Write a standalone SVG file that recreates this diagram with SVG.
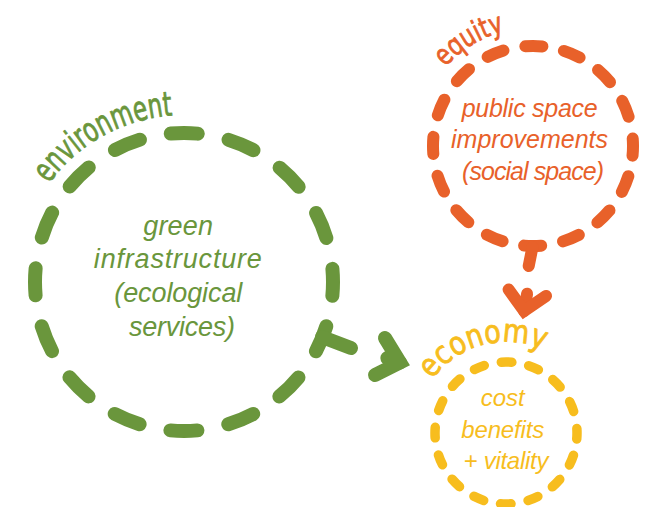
<svg xmlns="http://www.w3.org/2000/svg" width="671" height="507" viewBox="0 0 671 507">
  <style>
    .ring { fill: none; stroke-linecap: round; }
    .green { stroke: #6a963c; }
    .orange { stroke: #e8612a; }
    .yellow { stroke: #f7bd1e; }
    .tg { fill: #6a963c; }
    .to { fill: #e8612a; }
    .ty { fill: #f7bd1e; }
    .body { font-family: "Liberation Sans", Arial, sans-serif; font-style: italic; text-anchor: middle; }
    .head { font-family: "DejaVu Sans Condensed", "Liberation Sans Narrow", "Liberation Sans", sans-serif; font-stretch: condensed; stroke-width: 0.8; stroke-linejoin: round; }
    .conn { fill: none; stroke-linecap: round; stroke-linejoin: miter; stroke-miterlimit: 10; }
  </style>
  <defs>
    <path id="envPath" d="M48.9,183.8 A167,167 0 0 1 178.2,115.1"/>
    <path id="eqPath" d="M445.3,67 A118,118 0 0 1 504.5,31.5"/>
    <path id="ecoPath" d="M432.4,379.5 A91,91 0 0 1 544.5,350.5"/>
  </defs>
  <rect width="671" height="507" fill="#ffffff"/>

  <g id="environment">
    <circle class="ring green" cx="184" cy="282" r="149" stroke-width="14" stroke-dasharray="27 31.51" stroke-dashoffset="42.76" transform="rotate(11.25 184 282)"/>
    <text class="head tg green" font-size="34"><textPath href="#envPath" textLength="146" lengthAdjust="spacingAndGlyphs">environment</textPath></text>
    <text class="body tg" font-size="27">
      <tspan x="182" y="235" textLength="70">green</tspan>
      <tspan x="182" y="268" textLength="168">infrastructure</tspan>
      <tspan x="182" y="302" textLength="128">(ecological</tspan>
      <tspan x="182" y="336" textLength="106">services)</tspan>
    </text>
  </g>

  <g id="equity">
    <circle class="ring orange" cx="533" cy="146" r="100" stroke-width="12" stroke-dasharray="17 22.27" stroke-dashoffset="28.135" transform="rotate(11.25 533 146)"/>
    <text class="head to orange" font-size="29"><textPath href="#eqPath" textLength="70" lengthAdjust="spacingAndGlyphs">equity</textPath></text>
    <text class="body to" font-size="25">
      <tspan x="533" y="117" textLength="136">public space</tspan>
      <tspan x="533" y="148" textLength="157">improvements</tspan>
      <tspan x="533" y="180" textLength="142">(social space)</tspan>
    </text>
  </g>

  <g id="economy">
    <circle class="ring yellow" cx="506" cy="433" r="71" stroke-width="9.5" stroke-dasharray="10.5 17.38" stroke-dashoffset="19.19" transform="rotate(11.25 506 433)"/>
    <text class="head ty yellow" font-size="32"><textPath href="#ecoPath" textLength="124" lengthAdjust="spacingAndGlyphs">economy</textPath></text>
    <text class="body ty" font-size="24">
      <tspan x="506" y="406" textLength="44">cost</tspan>
      <tspan x="506" y="438" textLength="83">benefits</tspan>
      <tspan x="506" y="469" textLength="85">+ vitality</tspan>
    </text>
  </g>

  <g id="connectors">
    <g class="conn green" stroke-width="14">
      <path d="M322,337 L351,348"/>
      <path d="M387.3,358.1 L400,362.5"/>
      <path d="M385,338 L400,362.5 L375,375"/>
    </g>
    <g class="conn orange" stroke-width="12">
      <path d="M532.5,247 L528.7,266"/>
      <path d="M527.1,293.7 L524.1,311"/>
      <path d="M508.6,289.5 L524.1,311 L546,296"/>
    </g>
  </g>
</svg>
